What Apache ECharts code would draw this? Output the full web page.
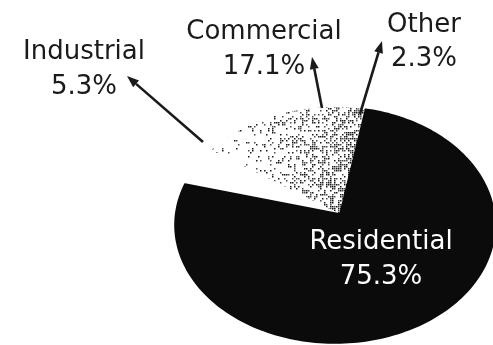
<!DOCTYPE html>
<html>
<head>
<meta charset="utf-8">
<script src="https://cdn.jsdelivr.net/npm/echarts@6/dist/echarts.min.js"></script>
<style>
  html, body { margin: 0; padding: 0; background: #ffffff; }
  #chart { width: 493px; height: 345px; }
</style>
</head>
<body>
<div id="chart"></div>
<script>
// Share of electricity use by sector (percent), listed clockwise from the top
const sectors = ['Other', 'Residential', 'Industrial', 'Commercial'];
const shares = [2.3, 75.3, 5.3, 17.1];

// Tilted-disc geometry: ellipse centre/radii, hub of the wedges, first edge (deg clockwise from top)
const PIE = { cx: 335, cy: 225, rx: 160, ry: 118, hubX: 340, hubY: 214, start: 11 };

// Label placement: centre x and the vertical middles of the two text lines
const LABELS = {
  Industrial:  { x: 84,  y: [52, 87],   color: '#1a1a1a' },
  Commercial:  { x: 264, y: [32, 67],   color: '#1a1a1a' },
  Other:       { x: 424, y: [25, 59],   color: '#1a1a1a' },
  Residential: { x: 381, y: [242, 277], color: '#ffffff' }
};

// Pointer arrows from a slice to its label: [tailX, tailY, tipX, tipY]
const POINTERS = {
  Industrial: [203, 142, 127, 76],
  Commercial: [322, 108, 312, 57],
  Other:      [360, 114, 382, 41]
};

const FONT = '26px "DejaVu Sans"';

// Deterministic integer hash for the printed dot screen
function hash(x, y) {
  let n = Math.imul(x, 374761393) + Math.imul(y, 668265263);
  n = Math.imul(n ^ (n >>> 13), 1274126177);
  n ^= n >>> 16;
  return (n >>> 0) / 4294967296;
}

// Stippled screen used for the Commercial wedge, denser towards the hub side
function stippleCanvas(w, h) {
  const c = document.createElement('canvas');
  c.width = w; c.height = h;
  const g = c.getContext('2d');
  g.fillStyle = '#ffffff';
  g.fillRect(0, 0, w, h);
  for (let y = 0; y < h; y += 2) {
    for (let x = 0; x < w; x += 2) {
      const t = Math.min(1, Math.max(0, (x - 215) / 135));
      const v = Math.min(1, Math.max(0, (y - 110) / 100));
      const p = 0.06 + 0.42 * Math.pow(t, 1.7) + 0.14 * v * t;
      const r = hash(x, y);
      if (r < p) {
        g.fillStyle = r < p * 0.55 ? '#1a1a1a' : '#4d4d4d';
        g.fillRect(x, y, 1.5, 1.5);
      }
    }
  }
  return c;
}

const dots = stippleCanvas(493, 345);
const fills = {
  Other: '#0b0b0b',
  Residential: '#0b0b0b',
  Industrial: '#ffffff',
  Commercial: { image: dots, repeat: 'no-repeat' }
};

const total = shares.reduce((a, b) => a + b, 0);

function renderSlice(params, api) {
  const i = params.dataIndex;
  let before = 0;
  for (let k = 0; k < i; k++) before += shares[k];
  const a0 = PIE.start + before / total * 360;
  const a1 = a0 + api.value(1) / total * 360;
  const pts = [[PIE.hubX, PIE.hubY]];
  const steps = Math.max(4, Math.ceil((a1 - a0) / 1.5));
  for (let s = 0; s <= steps; s++) {
    const t = (a0 + (a1 - a0) * s / steps) * Math.PI / 180;
    pts.push([PIE.cx + PIE.rx * Math.sin(t), PIE.cy - PIE.ry * Math.cos(t)]);
  }
  const name = sectors[i];
  const fill = fills[name];
  const solid = typeof fill === 'string' && fill !== '#ffffff';
  return {
    type: 'polygon',
    shape: { points: pts },
    z2: solid ? 2 : 1,
    style: {
      fill: fill,
      stroke: solid ? fill : null,
      lineWidth: solid ? 1.6 : 0,
      lineJoin: 'round'
    }
  };
}

// Labels and pointer arrows
const graphics = [];
sectors.forEach((name, i) => {
  const L = LABELS[name];
  const lines = [name, shares[i].toFixed(1) + '%'];
  lines.forEach((txt, j) => {
    graphics.push({
      type: 'text',
      x: L.x, y: L.y[j],
      z: 10,
      style: {
        text: txt, font: FONT, fill: L.color,
        textAlign: 'center', textVerticalAlign: 'middle',
        align: 'center', verticalAlign: 'middle'
      }
    });
  });
  const P = POINTERS[name];
  if (P) {
    const [x0, y0, x1, y1] = P;
    const ang = Math.atan2(y1 - y0, x1 - x0);
    const len = 12, half = 4.5;
    const bx = x1 - len * Math.cos(ang), by = y1 - len * Math.sin(ang);
    const px = -Math.sin(ang) * half, py = Math.cos(ang) * half;
    graphics.push({
      type: 'line', z: 9,
      shape: { x1: x0, y1: y0, x2: bx, y2: by },
      style: { stroke: '#1a1a1a', lineWidth: 2.6 }
    });
    graphics.push({
      type: 'polygon', z: 9,
      shape: { points: [[x1, y1], [bx + px, by + py], [bx - px, by - py]] },
      style: { fill: '#1a1a1a' }
    });
  }
});

const chart = echarts.init(document.getElementById('chart'), null, { renderer: 'canvas' });
chart.setOption({
  backgroundColor: '#ffffff',
  animation: false,
  graphic: graphics,
  series: [{
    type: 'custom',
    coordinateSystem: 'none',
    renderItem: renderSlice,
    data: sectors.map((n, i) => [i, shares[i]])
  }]
});
</script>
</body>
</html>
